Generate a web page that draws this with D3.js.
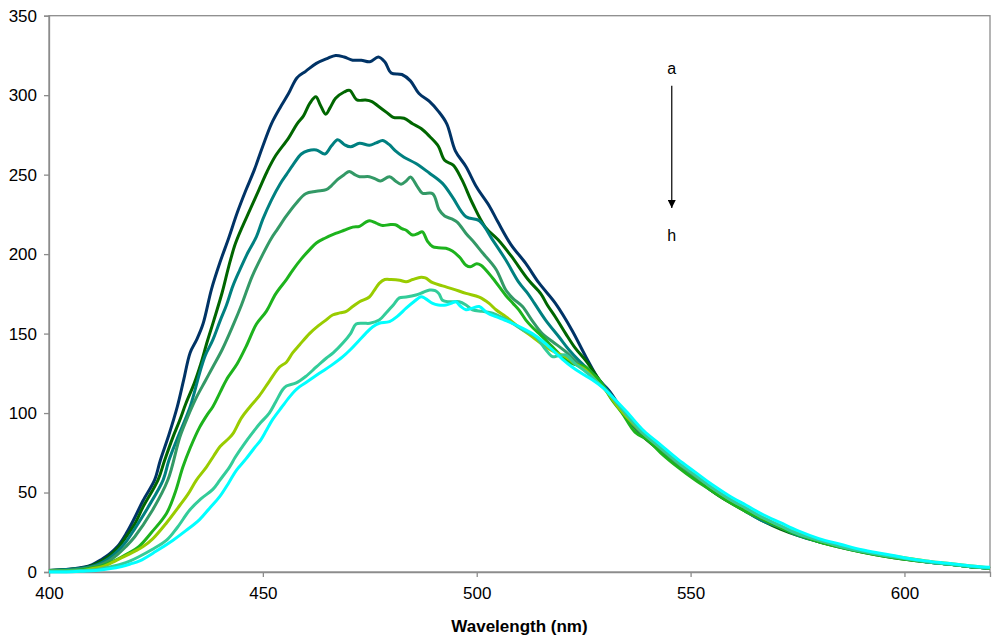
<!DOCTYPE html>
<html>
<head>
<meta charset="utf-8">
<script src="https://cdn.jsdelivr.net/npm/d3@7"></script>
<style>
  body { margin: 0; background: #fff; }
  #chart text { font-family: "Liberation Sans", Arial, sans-serif; }
</style>
</head>
<body>
<div id="chart"></div>
<script>
// Emission spectra a..h, [wavelength (nm), intensity]
const seriesA = [[400,1],[404,1.5],[408,3],[410,4.5],[412,7.5],[414,11],[416,16],[418,24],[420,34],[422,45],[424.7,58],[426,70],[428,86],[430,104],[431.5,121],[433,138],[434.5,146],[436,156],[438,178],[440,195],[442,210],[444,226],[446,240],[448,253],[450,268],[452,282],[454,292],[456,301],[458,311],[460,315],[462.5,320],[465,323],[467,325],[469,324],[471,322],[473,322],[475,321],[477,324],[478.5,321],[480,314],[482.5,313],[484.5,309],[486.5,301],[489,296],[491,290],[493,282],[495,265],[497.5,255],[500,242],[503,230],[505,220],[508,206],[511.5,194],[514.5,182],[518.4,169],[522.3,152],[525.5,135.5],[528.6,121],[531,114],[535,98],[539,86],[543,77],[547,68],[551,60],[555,52],[559,45],[563,39],[567,33],[571,28],[575,24],[580,19.5],[585,16],[590,13],[595,10.5],[600,8.5],[605,6.5],[610,5],[615,3.5],[620,2.3]];
const seriesB = [[400,1],[404,1.5],[408,2.5],[410,4],[412,6.5],[414,10],[416,15],[418,22],[420,30],[422,41],[425.5,58],[427,70],[429,85],[430.5,95],[432,106],[434,119],[435.5,131],[437,145],[438.5,158],[440.5,176],[442,192],[443.5,206],[445,216],[447,228],[449,240],[451,252],[453,262],[456,273],[458,282],[459.5,287],[461,295],[462.4,299],[463.4,294],[464.7,288],[465.7,292],[467,298],[469,302],[470.3,303],[472,297],[474,297],[475.5,296],[477,293],[479,289],[480.5,286],[483,285.5],[485,282],[487,279],[489,274],[491,268],[492.5,259],[494.5,256],[496.5,247],[499,232],[502,217],[505,209],[508,199],[512,184],[515,175],[516.5,168],[518.5,160],[520.8,150],[523,141],[525.5,133],[528.6,121],[531,112],[535,97],[539,85],[543,76],[547,67],[551,60],[555,51],[559,44],[563,38],[567,32],[571,27],[575,23],[580,19],[585,15.5],[590,12.5],[595,10],[600,8],[605,6.5],[610,5],[615,3.5],[620,2.3]];
const seriesC = [[400,1],[404,1.5],[408,2.5],[410,3.5],[412,5.5],[414,8.5],[416,13],[418,19],[420,27],[423,40],[426.7,58],[428,70],[430,84],[433,104],[435.2,125],[436.5,136],[438.3,146],[440,158],[441.5,168],[443,180],[444.6,190],[446.5,201],[448.5,211],[450,222],[452,234],[454,244],[455.5,250],[457,256],[459,263],[460.5,265],[462.5,265.5],[464.5,263],[466,268],[467.5,272],[469,269],[470.5,267.5],[472.6,269.7],[474.9,268.5],[476.5,270],[478,271.5],[479.5,269],[481,265],[483,261],[485.8,257],[488.9,251],[492,244.5],[494.3,236],[497.5,223.5],[500.6,221],[503.7,209],[506.8,196.3],[509.9,182],[512,175],[513.5,169],[516.1,158.5],[519.2,148],[521.5,140],[523.9,133],[527.8,123],[531,113],[535,98],[539,86],[543,77],[547,67],[551,59],[555,51],[559,45],[563,38],[567,32],[571,28],[575,23],[580,19],[585,16],[590,13],[595,10.5],[600,8.5],[605,6.5],[610,5],[615,3.5],[620,2.3]];
const seriesD = [[400,1],[404,1],[408,2],[410,3],[412,4.5],[414,7],[416,11],[418,16],[420,22],[424,38],[427.8,58],[430.6,85],[432.5,98],[434.5,110],[436.5,120],[438.3,129],[440.5,140],[443,155],[445,168],[447.5,186],[450,200],[452,210],[453.5,216],[455.5,224],[457.8,232],[460,238],[462.5,239.5],[464.8,240.5],[466,243],[467.5,247],[469,250],[470.2,252],[471.5,250],[472.6,248.7],[474.9,248.7],[476.5,247],[477.5,246],[479.6,248.7],[481,246],[482.3,244],[483.5,246],[484.5,248.5],[486,243],[487.3,238.3],[489.7,238],[491.2,228],[492.5,224],[494.3,222],[495.5,220],[497.5,213],[499.5,207],[501.3,201],[504.5,190.5],[506.8,177.4],[508.5,172],[510.7,167],[513,158],[515.3,150],[517.7,145],[520.8,138.6],[523,133],[525.5,127],[528.5,120],[531,112],[535,97],[539,86],[543,76],[547,67],[551,59],[555,52],[559,45],[563,38],[567,33],[571,28],[575,24],[580,19.5],[585,16],[590,13],[595,10.5],[600,8.5],[605,6.5],[610,5],[615,3.5],[620,2.3]];
const seriesE = [[400,0.5],[404,0.7],[408,1.5],[410,2.5],[412,3.5],[414,5.5],[416,8],[418,11],[421,16],[424,25],[427.5,37],[429.5,50],[431.3,66],[433,78],[435.2,91],[437,99],[438.3,104],[440,113],[441.5,121],[444,131],[446.1,142],[448.5,156],[450.8,164],[453,175],[455.5,184],[457,190],[459,197],[461,203],[462.5,207],[464.5,210],[467,213],[469,215],[471,217],[472.6,217.5],[474,220],[475,221],[476.5,219.5],[478,218],[479.5,218.5],[481,218.5],[482.5,216],[483.5,215],[485,212],[486.3,213],[487.3,214],[488.5,208],[489.7,204.7],[491,204],[492.8,203.7],[494.3,202],[496,198],[497.5,193],[498.5,192],[500,194],[501,193],[503.7,185],[506.8,174],[508.5,169],[509.9,164.8],[511.5,158.5],[513,154],[514.6,150],[517.7,141.7],[520.8,133.4],[522.5,131],[525.5,129],[527,125],[528.6,121],[531.7,108],[534,100],[537,88],[540,83],[543,75],[547,66],[551,58],[555,51],[559,44],[563,38],[567,33],[571,28],[575,23.5],[580,19],[585,15.5],[590,12.5],[595,10],[600,8],[605,6.5],[610,5],[615,3.5],[620,2.3]];
const seriesF = [[400,0.5],[404,0.5],[408,1],[410,2],[412,3],[414,5],[417,9],[420,13],[422,16],[424.3,21],[427.5,31],[430.6,42],[432.5,49],[434.5,58],[436.8,66],[438.5,73],[440,79],[442,84],[443,87],[445,97],[447,104],[449.2,111],[451.5,120],[453.9,129],[455.5,132],[457,138],[458.6,143],[460.9,150],[463,155],[464.5,158],[466.3,161.7],[468,163],[469.5,164],[471,167],[472.6,170],[474.9,173],[476,177],[477.2,181.6],[478.5,184],[480,184],[482,183.5],[483.5,182.6],[485,184],[487,185.5],[488,185],[489.7,182],[492,180],[494.5,178],[497.5,175.3],[500.6,173],[502.9,169],[504.5,165],[506.8,160.6],[509.9,154],[513,148],[516.1,141.7],[518.5,138],[520.8,135.5],[523,131],[525.5,127],[528,120],[530.1,114.5],[533,104],[536,95],[539,87],[543,78],[547,69],[551,61],[555,53],[559,46],[563,40],[567,34],[571,29],[575,24.5],[580,20],[585,16.5],[590,13.5],[595,11],[600,9],[605,7],[610,5.5],[615,4],[620,2.5]];
const seriesG = [[400,0.5],[404,0.5],[408,1],[411,1.5],[414,3],[417,5],[419,7],[421,9.6],[424,14],[427.5,20],[430,28],[432.9,39],[435.5,46],[438.3,52],[440,58],[442.2,66],[443.5,72],[445.5,80],[447.7,88],[449.5,94],[451.5,100],[453,107],[454.7,115],[455.5,117],[457.8,119],[460,123],[462.5,129],[464.8,134.5],[466.5,138],[468.7,144],[470.5,150],[471.8,156],[473.5,156.5],[475,156.5],[477.2,158.5],[478.8,163],[480.5,168],[481.9,172.5],[483.5,173],[485.8,174.3],[487.5,176],[489,177.4],[490.3,177],[491.2,175],[492,171],[493.5,170],[495.9,170],[497.5,168],[499,165],[501.3,164],[503.7,162.8],[506,160],[508.3,156.5],[511,152],[513.8,148],[516.1,140],[517.7,135.5],[519,136],[520.8,136.5],[523,131],[525.5,126],[528,120],[531,112],[535,99],[539,87],[543,78],[547,69],[551,61],[555,53],[559,46],[563,40],[567,34],[571,29],[575,24],[580,20],[585,16],[590,13],[595,10.5],[600,8.5],[605,6.5],[610,5],[615,3.5],[620,2.5]];
const seriesH = [[400,0],[404,0],[408,0.5],[411,1],[414,2],[417,3.5],[419,5],[421.2,7],[425,13],[429,20],[432,26],[435.2,33],[437.5,40],[439.9,47.4],[442,56],[443.8,64],[446,71],[448,78],[449.5,83],[450.8,89],[452.3,96],[454.5,104],[456.2,110],[457.5,114],[458.6,116.6],[460.5,120],[463.2,125],[466,130],[468.7,135.5],[470.5,140],[472.6,146],[474,150],[475.7,154.3],[477.2,156.5],[479.6,157.5],[481.5,161],[483.5,166],[485.3,170],[487,173.2],[488,172],[489.7,169],[491,168],[492.8,168],[494,169],[495.1,170],[496.3,167],[497.5,165],[499,166],[500.6,167],[502.5,163],[504.5,160.6],[506.5,158.5],[508.3,156.5],[511,153],[513,150],[515.5,145],[517.7,139.7],[520,134],[522.3,129],[524.5,125],[527,121],[529.5,116],[531.7,110.3],[535,101],[539,89],[543,80],[547,71],[551,63],[555,55],[559,48],[563,42],[567,36],[571,31],[575,26],[580,21],[585,17.5],[590,14],[595,11.5],[600,9],[605,7],[610,5.5],[615,4],[620,3]];

const seriesNames = ["a", "b", "c", "d", "e", "f", "g", "h"];
const seriesColors = ["#003366", "#006600", "#008080", "#339966", "#1db31d", "#99cc00", "#33cc99", "#00ffff"];
const allSeries = [seriesA, seriesB, seriesC, seriesD, seriesE, seriesF, seriesG, seriesH];

const xTicks = [400, 450, 500, 550, 600];
const yTicks = [0, 50, 100, 150, 200, 250, 300, 350];
const xTitle = "Wavelength (nm)";

const width = 1000, height = 643;
const margin = { top: 15.7, right: 10, bottom: 71, left: 49 };

const svg = d3.select("#chart").append("svg")
  .attr("width", width)
  .attr("height", height);

const x = d3.scaleLinear().domain([400, 620]).range([margin.left, width - margin.right]);
const y = d3.scaleLinear().domain([0, 350]).range([height - margin.bottom, margin.top]);

// plot frame
svg.append("rect")
  .attr("x", x(400)).attr("y", y(350))
  .attr("width", x(620) - x(400)).attr("height", y(0) - y(350))
  .attr("fill", "none").attr("stroke", "#8c8c8c").attr("stroke-width", 1.3);

// axes
const yAxis = svg.append("g")
  .attr("transform", `translate(${x(400)},0)`)
  .call(d3.axisLeft(y).tickValues(yTicks).tickSize(5).tickPadding(7));
const xAxis = svg.append("g")
  .attr("transform", `translate(0,${y(0)})`)
  .call(d3.axisBottom(x).tickValues(xTicks).tickSize(5).tickPadding(10));

[xAxis, yAxis].forEach(g => {
  g.select(".domain").attr("stroke", "#8c8c8c").attr("stroke-width", 1.3);
  g.selectAll(".tick line").attr("stroke", "#8c8c8c").attr("stroke-width", 1.3);
  g.selectAll(".tick text").attr("fill", "#000").style("font-size", "17px");
});

// spectra, first series drawn first
const line = d3.line()
  .x(d => x(d[0]))
  .y(d => y(d[1]))
  .curve(d3.curveCatmullRom.alpha(0.5));

svg.append("g")
  .selectAll("path")
  .data(allSeries)
  .enter().append("path")
  .attr("d", line)
  .attr("fill", "none")
  .attr("stroke", (d, i) => seriesColors[i])
  .attr("stroke-width", 3)
  .attr("stroke-linejoin", "round");

// x title
svg.append("text")
  .attr("x", (x(400) + x(620)) / 2)
  .attr("y", 632)
  .attr("text-anchor", "middle")
  .style("font-size", "17px")
  .style("font-weight", "bold")
  .text(xTitle);

// a -> h arrow annotation
const defs = svg.append("defs");
defs.append("marker")
  .attr("id", "arrowhead")
  .attr("viewBox", "0 0 10 10")
  .attr("refX", 10).attr("refY", 5)
  .attr("markerWidth", 8).attr("markerHeight", 8)
  .attr("markerUnits", "userSpaceOnUse")
  .attr("orient", "auto")
  .append("path")
  .attr("d", "M0,0 L10,5 L0,10 Z")
  .attr("fill", "#000");

const arrowX = x(545.6);
svg.append("line")
  .attr("x1", arrowX).attr("x2", arrowX)
  .attr("y1", y(306)).attr("y2", y(229))
  .attr("stroke", "#000").attr("stroke-width", 1.2)
  .attr("marker-end", "url(#arrowhead)");

svg.append("text")
  .attr("x", arrowX).attr("y", y(313.5))
  .attr("text-anchor", "middle")
  .style("font-size", "16px")
  .text(seriesNames[0]);
svg.append("text")
  .attr("x", arrowX).attr("y", y(208))
  .attr("text-anchor", "middle")
  .style("font-size", "16px")
  .text(seriesNames[seriesNames.length - 1]);
</script>
</body>
</html>
